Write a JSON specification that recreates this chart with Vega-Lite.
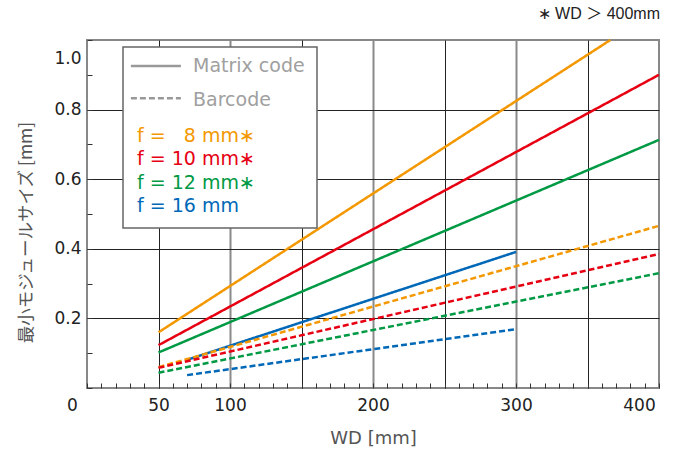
{
  "$schema": "https://vega.github.io/schema/vega-lite/v6.json",
  "width": 572,
  "height": 348,
  "autosize": {"type": "none"},
  "padding": {"left": 87, "top": 40, "right": 17, "bottom": 62},
  "background": "white",
  "title": {"text": "\u2217 WD \uff1e 400mm", "anchor": "end", "fontSize": 16, "font": "Liberation Sans, Noto Sans CJK JP", "fontWeight": "normal", "color": "#222", "offset": 13, "dx": -4},
  "data": {"values": [
    {"f": "f = \u20078 mm\u2217", "type": "Matrix code", "wd": 50, "size": 0.16},
    {"f": "f = \u20078 mm\u2217", "type": "Matrix code", "wd": 366, "size": 1.0},
    {"f": "f = 10 mm\u2217", "type": "Matrix code", "wd": 50, "size": 0.123},
    {"f": "f = 10 mm\u2217", "type": "Matrix code", "wd": 400, "size": 0.9},
    {"f": "f = 12 mm\u2217", "type": "Matrix code", "wd": 50, "size": 0.102},
    {"f": "f = 12 mm\u2217", "type": "Matrix code", "wd": 400, "size": 0.713},
    {"f": "f = 16 mm", "type": "Matrix code", "wd": 70, "size": 0.081},
    {"f": "f = 16 mm", "type": "Matrix code", "wd": 300, "size": 0.391},
    {"f": "f = \u20078 mm\u2217", "type": "Barcode", "wd": 50, "size": 0.06},
    {"f": "f = \u20078 mm\u2217", "type": "Barcode", "wd": 400, "size": 0.466},
    {"f": "f = 10 mm\u2217", "type": "Barcode", "wd": 50, "size": 0.058},
    {"f": "f = 10 mm\u2217", "type": "Barcode", "wd": 400, "size": 0.385},
    {"f": "f = 12 mm\u2217", "type": "Barcode", "wd": 50, "size": 0.044},
    {"f": "f = 12 mm\u2217", "type": "Barcode", "wd": 400, "size": 0.33},
    {"f": "f = 16 mm", "type": "Barcode", "wd": 70, "size": 0.037},
    {"f": "f = 16 mm", "type": "Barcode", "wd": 300, "size": 0.169}
  ]},
  "mark": {"type": "line", "strokeWidth": 2.5, "strokeCap": "butt"},
  "encoding": {
    "x": {
      "field": "wd", "type": "quantitative",
      "scale": {"domain": [0, 400], "nice": false, "zero": false},
      "axis": {
        "values": [0,10,20,30,40,50,60,70,80,90,100,110,120,130,140,150,160,170,180,190,200,210,220,230,240,250,260,270,280,290,300,310,320,330,340,350,360,370,380,390,400],
        "title": "WD [mm]", "titleFont": "DejaVu Sans", "titleFontSize": 18, "titleFontWeight": "normal", "titleColor": "#555", "titlePadding": 16,
        "labelFont": "DejaVu Sans", "labelFontSize": 17, "labelColor": "#222", "labelPadding": 14,
        "labelFlush": false, "labelOverlap": false,
        "labelExpr": "(datum.value==0||datum.value==50||datum.value==100||datum.value==200||datum.value==300||datum.value==400) ? datum.label : ''",
        "labelOffset": {"condition": [{"test": "datum.value==0", "value": -15}, {"test": "datum.value==400", "value": -20}], "value": 0},
        "domain": false,
        "ticks": true, "tickSize": -5, "tickColor": "#333", "tickWidth": 1,
        "grid": true,
        "gridColor": {"condition": {"test": "datum.value % 100 == 0", "value": "#8a8a8a"}, "value": "#222"},
        "gridWidth": {"condition": {"test": "datum.value % 100 == 0", "value": 2}, "value": 1},
        "gridOpacity": {"condition": {"test": "datum.value % 50 == 0 && datum.value > 0 && datum.value < 400", "value": 1}, "value": 0}
      }
    },
    "y": {
      "field": "size", "type": "quantitative",
      "scale": {"domain": [0, 1], "nice": false},
      "axis": {
        "values": [0,0.1,0.2,0.3,0.4,0.5,0.6,0.7,0.8,0.9,1.0],
        "format": ".1f",
        "title": "最小モジュールサイズ [mm]", "titleFont": "Noto Sans CJK JP", "titleFontSize": 17.5, "titleFontWeight": "normal", "titleColor": "#555", "titlePadding": 18, "titleY": 192,
        "labelFont": "DejaVu Sans", "labelFontSize": 17, "labelColor": "#222", "labelPadding": 11,
        "labelFlush": false, "labelOverlap": false,
        "labelExpr": "(round(datum.value*10)%2==0 && datum.value>0.05) ? datum.label : ''",
        "labelOffset": {"condition": {"test": "datum.value>0.95", "value": 18}, "value": 0},
        "domain": false,
        "ticks": true, "tickSize": -5, "tickColor": "#333", "tickWidth": 1,
        "grid": true, "gridColor": "#222", "gridWidth": 1,
        "gridOpacity": {"condition": {"test": "round(datum.value*10)%2==0 && datum.value>0.05 && datum.value<0.95", "value": 1}, "value": 0}
      }
    },
    "color": {
      "field": "f", "type": "nominal",
      "scale": {"domain": ["f = \u20078 mm\u2217", "f = 10 mm\u2217", "f = 12 mm\u2217", "f = 16 mm"], "range": ["#F39800", "#E60012", "#009944", "#0068B7"]},
      "legend": {
        "title": ["Matrix code", "Barcode"],
        "titleFont": "DejaVu Sans", "titleFontSize": 19, "titleFontWeight": "normal", "titleColor": "#a0a0a0", "titleLineHeight": 34, "titlePadding": 14, "titleLimit": 400,
        "orient": "none", "legendX": 36, "legendY": 7,
        "fillColor": "white", "strokeColor": "#666", "padding": 12,
        "symbolOpacity": 0, "symbolSize": 0, "symbolStrokeWidth": 0,
        "labelFont": "DejaVu Sans", "labelFontSize": 19, "labelOffset": -17, "rowPadding": 3.5, "labelLimit": 300,
        "zindex": 1,
        "encode": {
          "labels": {"update": {"fill": {"scale": "color", "field": "value"}}},
          "title": {"update": {"dx": {"value": 58}, "dy": {"value": -2}}},
          "legend": {"update": {"strokeWidth": {"value": 1.5}}}
        }
      }
    },
    "strokeDash": {
      "field": "type", "type": "nominal",
      "scale": {"domain": ["Matrix code", "Barcode"], "range": [[1, 0], [6, 3]]},
      "legend": {
        "title": null, "orient": "none", "legendX": 39.4, "legendY": 16.5, "padding": 0,
        "symbolType": "M-1,0H9", "symbolSize": 100, "symbolStrokeColor": "#999", "symbolStrokeWidth": 2.5,
        "labelExpr": "''", "labelFontSize": 19, "labelOffset": 0, "rowPadding": 12.3,
        "zindex": 2
      }
    }
  },
  "config": {"view": {"stroke": "#888", "strokeWidth": 2}}
}
